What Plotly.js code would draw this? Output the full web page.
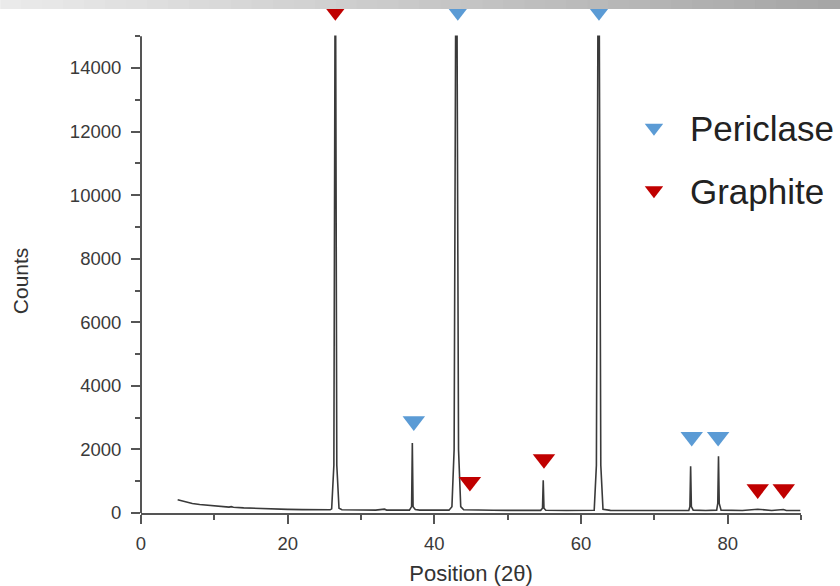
<!DOCTYPE html>
<html>
<head>
<meta charset="utf-8">
<script src="https://cdn.plot.ly/plotly-3.0.1.min.js"></script>
<style>html,body{margin:0;padding:0;background:#fff;}#chart{width:840px;height:586px;}</style>
</head>
<body>
<div id="chart"></div>
<script>
// XRD scan: position (2θ) and counts
var scanX = [5.0, 6, 7, 8, 9, 10, 12, 12.3, 12.6, 14, 16, 18, 20, 22, 24, 25.8,
  26.0, 26.3, 26.45, 26.55, 26.7, 27.0, 27.4, 28, 30, 32, 33.2, 33.5, 35, 36.6,
  36.9, 37.0, 37.1, 37.4, 38, 40, 42, 42.4, 42.7, 42.9, 43.1, 43.3, 43.6, 44,
  46, 48, 50, 52, 54.5, 54.75, 54.85, 54.95, 55.2, 58, 61.8, 62.1, 62.3, 62.5,
  62.7, 63, 64, 68, 72, 74.7, 74.85, 74.95, 75.05, 75.3, 77, 78.5, 78.65, 78.75,
  78.85, 79.1, 82, 84.1, 86, 87.6, 88, 89.9];
var scanCounts = [420, 350, 300, 265, 240, 215, 185, 200, 180, 160, 140, 125, 115, 105, 100, 100,
  130, 1500, 15000, 15000, 1500, 150, 100, 95, 95, 92, 120, 92, 90, 90,
  200, 2200, 200, 110, 90, 88, 90, 200, 2000, 15000, 15000, 2000, 200, 100,
  85, 85, 82, 82, 82, 150, 1030, 150, 85, 80, 85, 1500, 15000, 15000,
  1500, 120, 82, 80, 80, 82, 200, 1470, 200, 90, 80, 90, 300, 1785,
  300, 90, 78, 120, 78, 110, 78, 78];

// Phase markers
var periclaseX = [37.2, 43.2, 62.45, 75.1, 78.7];
var periclaseY = [2890, 15790, 15790, 2395, 2395];
var graphiteX = [26.5, 44.85, 54.95, 84.1, 87.65];
var graphiteY = [15790, 980, 1695, 750, 750];

var xTicks = [0, 20, 40, 60, 80];
var yTicks = [0, 2000, 4000, 6000, 8000, 10000, 12000, 14000];
var yMinorTicks = [1000, 3000, 5000, 7000, 9000, 11000, 13000, 15000];
var yAxisTop = 15000;

var traces = [
  {x: scanX, y: scanCounts, type: 'scatter', mode: 'lines', showlegend: false,
   line: {color: '#3a3a3a', width: 1.6}, hoverinfo: 'skip'},
  {x: periclaseX, y: periclaseY, type: 'scatter', mode: 'markers', name: 'Periclase',
   legendgroup: 'p', cliponaxis: false,
   marker: {symbol: 'triangle-down', size: 19.5, color: '#5b9bd5'}},
  {x: graphiteX, y: graphiteY, type: 'scatter', mode: 'markers', name: 'Graphite',
   legendgroup: 'g', cliponaxis: false,
   marker: {symbol: 'triangle-down', size: 19.5, color: '#c00000'}}
];

// plot area: x 141..802 px, y 0 at 513 px, 0.031786 px per count
var plotTop = 2;
var yMax = (513 - plotTop) / 0.031786;
var plotH = 513 - plotTop;

var shapes = [];
// left axis line from 0 to 15000 only
shapes.push({type: 'line', xref: 'paper', yref: 'y', x0: 0, x1: 0, y0: 0, y1: yAxisTop,
  line: {color: '#555555', width: 2}, layer: 'above'});
// top grey gradient banner
var nBand = 40;
var x0p = -141 / 661, x1p = 699 / 661;
for (var i = 0; i < nBand; i++) {
  var t = i / (nBand - 1);
  var g = Math.round(234 - t * (234 - 166));
  shapes.push({type: 'rect', xref: 'paper', yref: 'paper', layer: 'above',
    x0: x0p + (x1p - x0p) * i / nBand, x1: x0p + (x1p - x0p) * (i + 1) / nBand + 0.002,
    y0: (513 - 9) / plotH, y1: (513 + 2) / plotH,
    fillcolor: 'rgb(' + g + ',' + g + ',' + g + ')', line: {width: 0}});
}

var fontFam = 'Liberation Sans, Arial, sans-serif';
var axisCommon = {
  linecolor: '#555555', linewidth: 2, mirror: false,
  ticks: 'outside', ticklen: 9, tickwidth: 2, tickcolor: '#555555',
  showgrid: false, zeroline: false,
  tickfont: {family: fontFam, size: 18.5, color: '#3a3a3a'},
  minor: {ticks: 'outside', ticklen: 5, tickwidth: 2, tickcolor: '#555555', showgrid: false}
};

var layout = {
  width: 840, height: 586,
  margin: {l: 141, r: 38, t: plotTop, b: 73},
  paper_bgcolor: '#ffffff', plot_bgcolor: '#ffffff',
  font: {family: fontFam, color: '#333333'},
  xaxis: Object.assign({}, axisCommon, {
    showline: true,
    range: [0, 90], tickvals: xTicks, ticktext: xTicks.map(String),
    ticklabelstandoff: 4,
    minor: Object.assign({}, axisCommon.minor, {tick0: 10, dtick: 20}),
    title: {text: 'Position (2θ)', font: {size: 22, color: '#333333'}, standoff: 13}
  }),
  yaxis: Object.assign({}, axisCommon, {
    showline: false,
    range: [0, yMax], tickvals: yTicks, ticktext: yTicks.map(String),
    minor: {ticks: 'outside', ticklen: 5, tickwidth: 2, tickcolor: '#555555', showgrid: false,
      tickvals: yMinorTicks},
    ticklabelstandoff: 6
  }),
  annotations: [{text: 'Counts', xref: 'paper', yref: 'paper',
    x: (20 - 141) / 661, y: (513 - 281) / plotH, xanchor: 'center', yanchor: 'middle',
    textangle: -90, showarrow: false, font: {family: fontFam, size: 21, color: '#333333'}}],
  showlegend: true,
  legend: {x: 0.7216, xanchor: 'left', y: 0.811, yanchor: 'top',
    font: {family: fontFam, size: 35, color: '#222222'},
    bgcolor: 'rgba(0,0,0,0)', tracegroupgap: 14, itemwidth: 62, traceorder: 'grouped'},
  shapes: shapes
};

Plotly.newPlot('chart', traces, layout, {staticPlot: true, displayModeBar: false});
</script>
</body>
</html>
